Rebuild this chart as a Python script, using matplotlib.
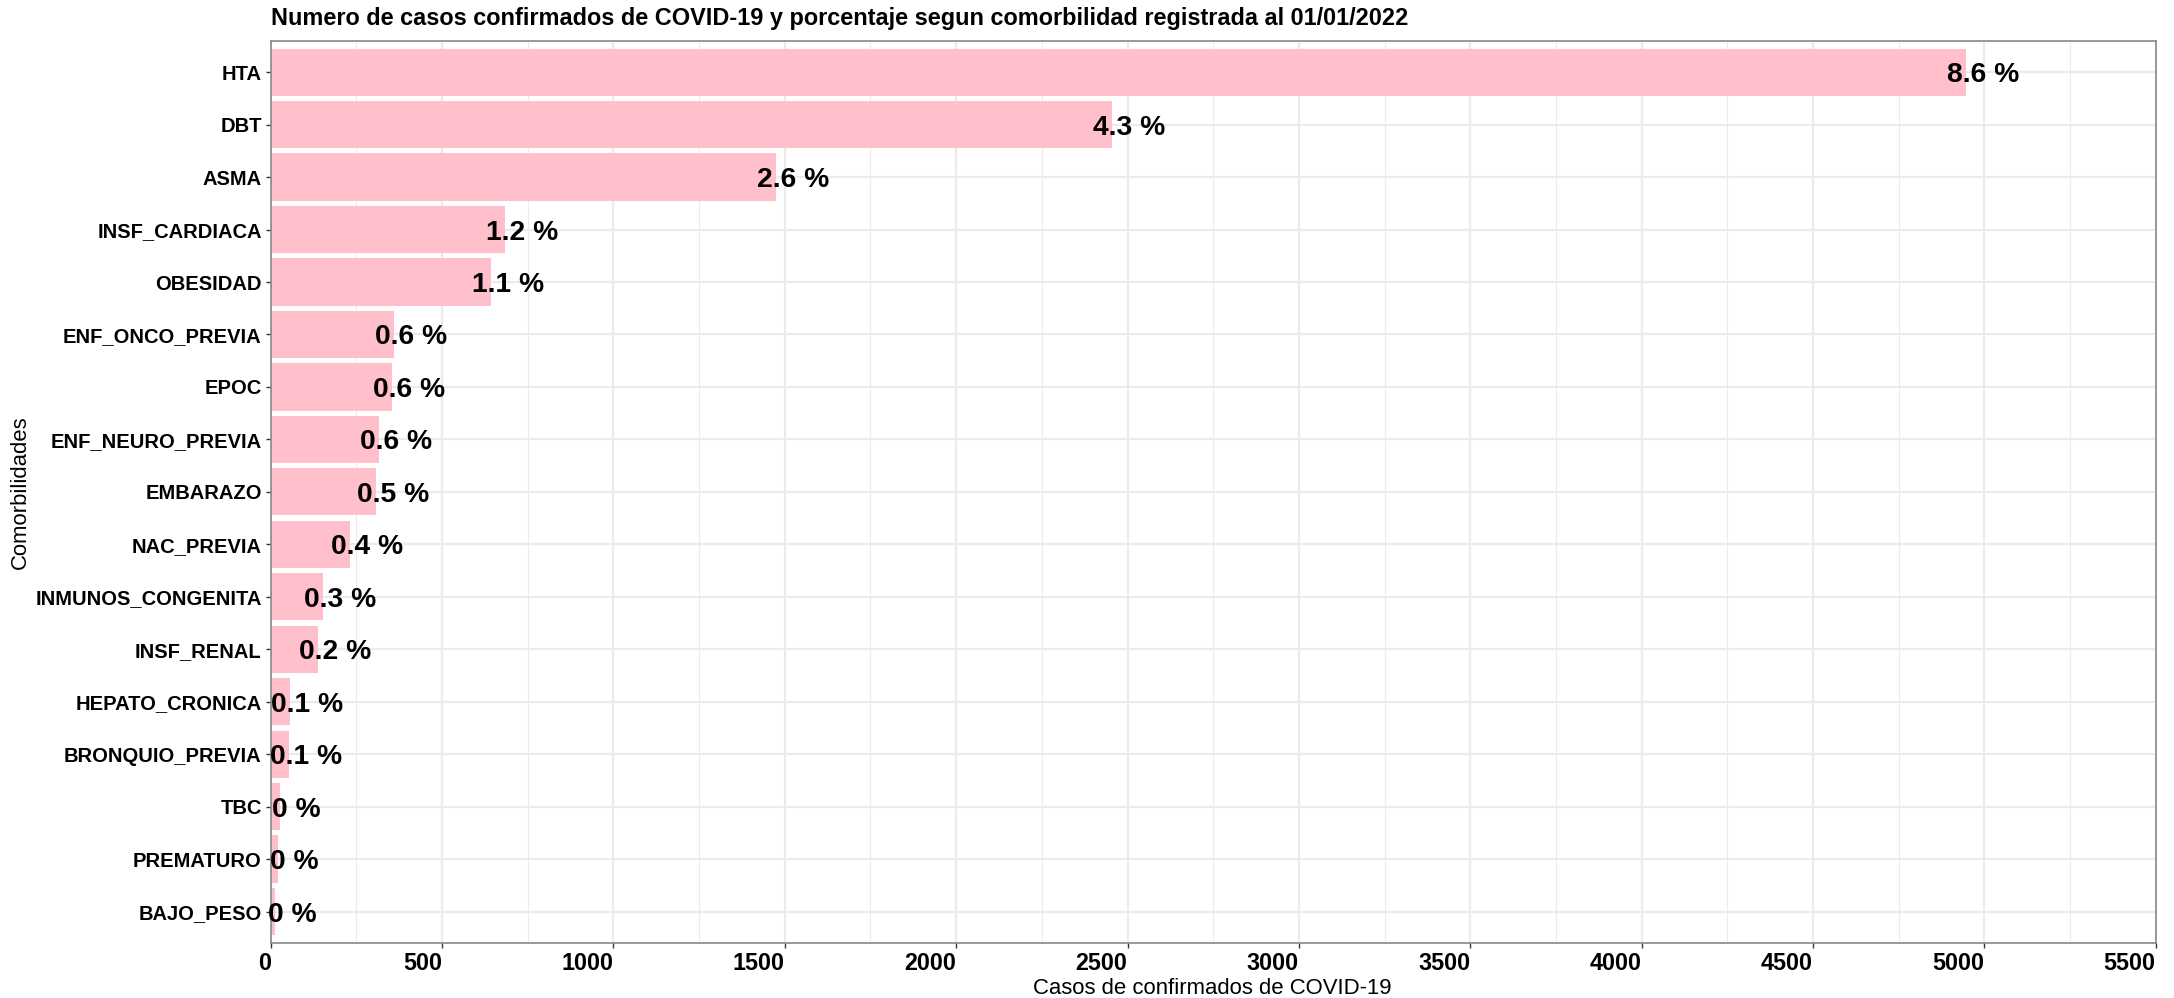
import matplotlib
matplotlib.use("Agg")
import matplotlib.pyplot as plt
from matplotlib.ticker import MultipleLocator

plt.rcParams["font.family"] = ["Liberation Sans", "DejaVu Sans"]

# data, top to bottom as shown
comorbilidades = ["HTA", "DBT", "ASMA", "INSF_CARDIACA", "OBESIDAD",
                  "ENF_ONCO_PREVIA", "EPOC", "ENF_NEURO_PREVIA", "EMBARAZO",
                  "NAC_PREVIA", "INMUNOS_CONGENITA", "INSF_RENAL",
                  "HEPATO_CRONICA", "BRONQUIO_PREVIA", "TBC", "PREMATURO",
                  "BAJO_PESO"]
casos = [4946, 2456, 1474, 684, 642, 359, 353, 316, 307, 230, 154, 138,
         55, 54, 26, 20, 13]
porcentajes = ["8.6 %", "4.3 %", "2.6 %", "1.2 %", "1.1 %", "0.6 %", "0.6 %",
               "0.6 %", "0.5 %", "0.4 %", "0.3 %", "0.2 %", "0.1 %", "0.1 %",
               "0 %", "0 %", "0 %"]

W, H = 2174, 998
fig = plt.figure(figsize=(W / 100, H / 100), dpi=100)
ax = fig.add_axes([270.7 / W, 1 - 943 / H, (2155.7 - 270.7) / W, (943 - 40.7) / H])

n = len(comorbilidades)
ypos = [n - 1 - i for i in range(n)]

ax.barh(ypos, casos, height=0.9, color="pink", zorder=2)
for y, v, lab in zip(ypos, casos, porcentajes):
    ax.text(v + 50, y, lab, ha="center", va="center_baseline", fontsize=20.3,
            fontweight="bold", color="black", zorder=3)

ax.set_xlim(0, 5500)
ax.set_ylim(-0.6, n - 0.4)
ax.xaxis.set_major_locator(MultipleLocator(500))
ax.xaxis.set_minor_locator(MultipleLocator(250))
ax.set_yticks(ypos)
ax.set_yticklabels(comorbilidades)

ax.grid(which="major", color="#EBEBEB", lw=1.6, zorder=0)
ax.grid(which="minor", axis="x", color="#EBEBEB", lw=0.8, zorder=0)
ax.set_axisbelow(True)

for s in ax.spines.values():
    s.set_color("#888888")
    s.set_linewidth(1.2)

ax.tick_params(axis="both", which="major", length=3.5, width=1, color="#333333",
               labelcolor="black", pad=3)
ax.tick_params(axis="y", labelsize=14.5)
ax.tick_params(axis="x", labelsize=16.8)
ax.tick_params(axis="x", which="minor", length=0)
for lbl in ax.get_xticklabels() + ax.get_yticklabels():
    lbl.set_fontweight("bold")
# x labels end at their tick, as in the original
for lbl in ax.get_xticklabels():
    lbl.set_horizontalalignment("right")

fig.text(271 / W, 1 - 19 / H, "Numero de casos confirmados de COVID-19 y porcentaje segun comorbilidad registrada al 01/01/2022",
         ha="left", va="center", fontsize=16.9, fontweight="bold")
fig.text(1212 / W, 1 - 988 / H, "Casos de confirmados de COVID-19",
         ha="center", va="center", fontsize=15.9)
fig.text(20 / W, 1 - 492 / H, "Comorbilidades", ha="center", va="center",
         rotation=90, fontsize=15.9)

fig.savefig("out.png", dpi=100)
